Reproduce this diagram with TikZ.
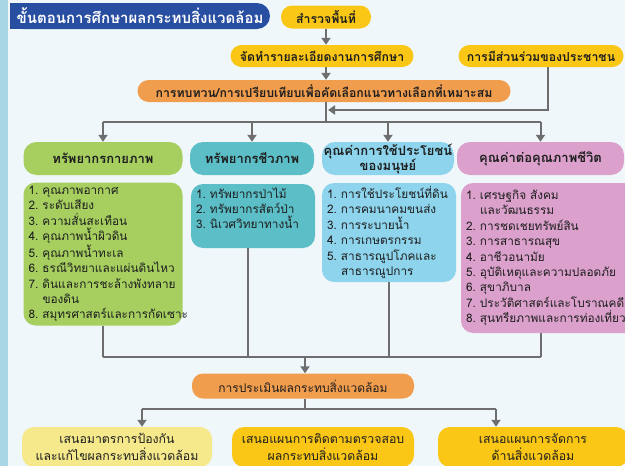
\documentclass[tikz,border=0pt]{standalone}
\usepackage{fontspec}
\setmainfont{Liberation Sans}
\newfontfamily\thai[Script=Thai]{Loma}
\usetikzlibrary{arrows.meta}
\definecolor{tblue}{RGB}{40,78,162}
\definecolor{yel}{RGB}{250,199,22}
\definecolor{paleyel}{RGB}{245,233,140}
\definecolor{org}{RGB}{241,157,78}
\definecolor{grn}{RGB}{166,207,96}
\definecolor{tealc}{RGB}{92,190,199}
\definecolor{lblue}{RGB}{141,212,236}
\definecolor{pinkc}{RGB}{219,161,204}
\definecolor{agray}{RGB}{110,110,110}
\definecolor{bgc}{RGB}{240,247,250}
\definecolor{stripc}{RGB}{168,214,229}
\definecolor{txt}{RGB}{30,30,30}
\newcommand\itm[2]{\makebox[14pt][l]{#1}#2\\}
\tikzset{
  pill/.style={rounded corners=11pt, inner sep=0pt, align=center, text=txt,
    font=\thai\bfseries\fontsize{12.3}{14}\selectfont},
  headbox/.style={rounded corners=13pt, inner sep=0pt, align=center, text=txt,
    minimum height=33pt, font=\thai\bfseries\fontsize{13}{15}\selectfont},
  listbox/.style={rounded corners=12pt, inner xsep=5pt, inner ysep=0pt, align=left, text=txt,
    font=\thai\fontsize{11.8}{15.4}\selectfont},
  botbox/.style={rounded corners=12pt, inner sep=0pt, align=center, text=txt,
    minimum height=40pt, font=\thai\fontsize{12.3}{17}\selectfont},
  ln/.style={draw=agray, line width=2pt},
  arr/.style={draw=agray, line width=2pt, -{Triangle[width=9pt,length=7pt]}}
}
\begin{document}
\begin{tikzpicture}[x=1pt,y=-1pt]
\useasboundingbox (0,0) rectangle (625,466);
\clip (0,0) rectangle (625,466);
\fill[bgc] (0,0) rectangle (625,466);
\fill[stripc] (0,0) rectangle (8,466);
% title
\fill[tblue] (10,3) rectangle (40,29);
\node[fill=tblue, rounded corners=13pt, minimum width=260pt, minimum height=26pt, inner sep=0pt,
  text=white, font=\thai\bfseries\fontsize{15}{17}\selectfont] (title) at (140,16) {ขั้นตอนการศึกษาผลกระทบสิ่งแวดล้อม};
% top flow
\node[pill, fill=yel, minimum width=90pt, minimum height=23pt] (survey) at (326,17) {สำรวจพื้นที่};
\node[pill, fill=yel, minimum width=183pt, minimum height=22pt] (detail) at (322,56) {จัดทำรายละเอียดงานการศึกษา};
\node[pill, fill=yel, minimum width=165pt, minimum height=22pt] (particip) at (541,56) {การมีส่วนร่วมของประชาชน};
\node[pill, fill=org, minimum width=373pt, minimum height=22pt] (review) at (324,91) {การทบทวน/การเปรียบเทียบเพื่อคัดเลือกแนวทางเลือกที่เหมาะสม};
% headers
\node[headbox, fill=grn, minimum width=159pt] (phys) at (103,158.5) {ทรัพยากรกายภาพ};
\node[headbox, fill=tealc, minimum width=124pt] (bio) at (252,158.5) {ทรัพยากรชีวภาพ};
\node[headbox, fill=lblue, minimum width=132pt] (human) at (388,158.5) {คุณค่าการใช้ประโยชน์\\ของมนุษย์};
\node[headbox, fill=pinkc, minimum width=167pt] (life) at (540.5,158.5) {คุณค่าต่อคุณภาพชีวิต};
% lists
\node[listbox, fill=grn, text width=149pt, minimum height=143pt] (physL) at (103,254) {%
\itm{1.}{คุณภาพอากาศ}\itm{2.}{ระดับเสียง}\itm{3.}{ความสั่นสะเทือน}\itm{4.}{คุณภาพน้ำผิวดิน}%
\itm{5.}{คุณภาพน้ำทะเล}\itm{6.}{ธรณีวิทยาและแผ่นดินไหว}\itm{7.}{ดินและการชะล้างพังทลาย}%
\itm{}{ของดิน}\makebox[14pt][l]{8.}สมุทรศาสตร์และการกัดเซาะ};
\node[listbox, fill=tealc, text width=114pt, minimum height=64pt] (bioL) at (253,216) {%
\itm{1.}{ทรัพยากรป่าไม้}\itm{2.}{ทรัพยากรสัตว์ป่า}\itm{3.}{นิเวศวิทยาทางน้ำ}\mbox{}};
\node[listbox, fill=lblue, text width=124pt, minimum height=99pt] (humL) at (389,232.5) {%
\itm{1.}{การใช้ประโยชน์ที่ดิน}\itm{2.}{การคมนาคมขนส่ง}\itm{3.}{การระบายน้ำ}\itm{4.}{การเกษตรกรรม}%
\itm{5.}{สาธารณูปโภคและ}\makebox[14pt][l]{}สาธารณูปการ};
\node[listbox, fill=pinkc, text width=190pt, minimum height=150pt] (lifeL) at (561,258) {%
\itm{1.}{เศรษฐกิจ สังคม}\itm{}{และวัฒนธรรม}\itm{2.}{การชดเชยทรัพย์สิน}\itm{3.}{การสาธารณสุข}%
\itm{4.}{อาชีวอนามัย}\itm{5.}{อุบัติเหตุและความปลอดภัย}\itm{6.}{สุขาภิบาล}%
\itm{7.}{ประวัติศาสตร์และโบราณคดี}\makebox[14pt][l]{8.}สุนทรียภาพและการท่องเที่ยว};
% evaluation and bottom
\node[pill, fill=org, minimum width=222pt, minimum height=25pt, font=\thai\fontsize{12}{14}\selectfont] (eval) at (303,386) {การประเมินผลกระทบสิ่งแวดล้อม};
\node[botbox, fill=paleyel, minimum width=190pt] (b1) at (117,447) {เสนอมาตรการป้องกัน\\และแก้ไขผลกระทบสิ่งแวดล้อม};
\node[botbox, fill=yel, minimum width=182pt] (b2) at (323,447) {เสนอแผนการติดตามตรวจสอบ\\ผลกระทบสิ่งแวดล้อม};
\node[botbox, fill=yel, minimum width=190pt] (b3) at (533,447) {เสนอแผนการจัดการ\\ด้านสิ่งแวดล้อม};
% connectors
\coordinate (rv) at ([xshift=2pt]review.south);
\coordinate (split) at ([yshift=-20pt]rv);
\coordinate (join) at (305,357);
\coordinate (fork) at (305,409);
\draw[arr] (survey.south) -- (survey.south |- detail.north);
\draw[arr] (detail.south -| rv) -- (review.north -| rv);
\draw[arr] ([xshift=7pt]particip.south) |- ([xshift=2pt]rv |- 0,110);
\draw[ln] (rv) -- (split);
\draw[ln] (split -| phys) -- (split -| life);
\foreach \h in {phys,bio,human,life}{\draw[arr] (split -| \h) -- (\h.north);}
\draw[ln] (physL.south) -- (physL.south |- join);
\draw[ln] ([xshift=-5pt]bioL.south) -- ([xshift=-5pt]bioL.south |- join);
\draw[ln] (humL.south) -- (humL.south |- join);
\draw[ln] (lifeL.south -| life) -- (life |- join);
\draw[ln] (physL.south |- join) -- (life |- join);
\draw[arr] (join) -- (eval.north -| join);
\draw[ln] (eval.south -| fork) -- (fork);
\draw[ln] (142,409) -- (496,409);
\draw[arr] (142,409) -- ([xshift=25pt]b1.north);
\draw[arr] (496,409) -- ([xshift=-37pt]b3.north);
\end{tikzpicture}
\end{document}
